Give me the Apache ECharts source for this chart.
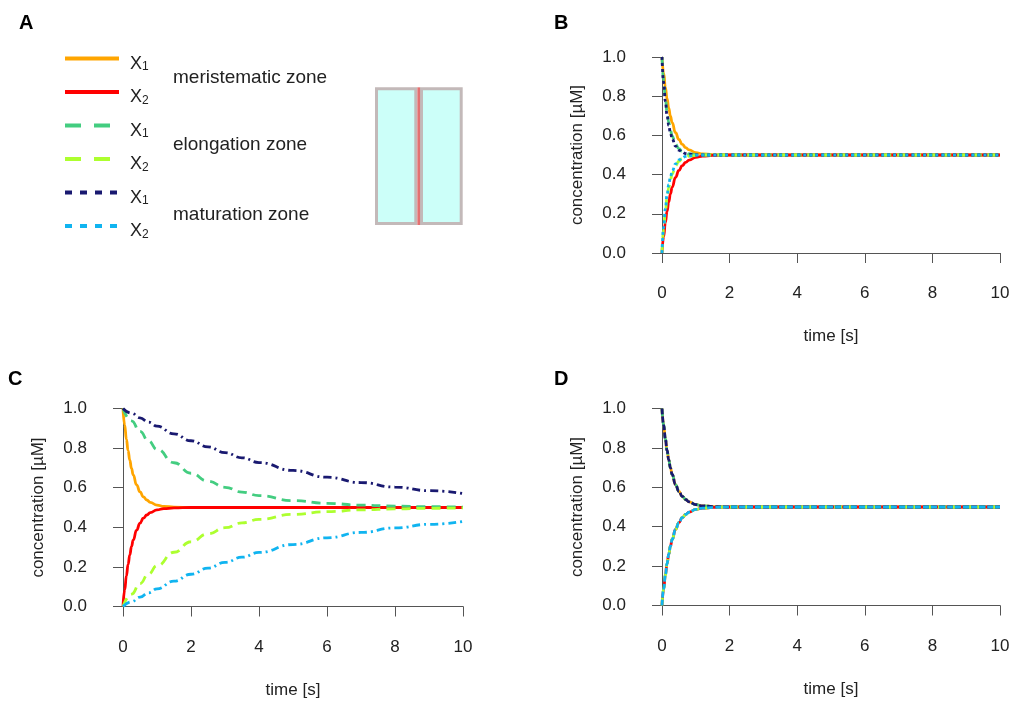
<!DOCTYPE html>
<html>
<head>
<meta charset="utf-8">
<script src="https://cdn.jsdelivr.net/npm/echarts@6/dist/echarts.min.js"></script>
<style>
html, body { margin: 0; padding: 0; background: #fff; }
#main { width: 1016px; height: 701px; }
</style>
</head>
<body>
<div id="main"></div>
<script>
var FONT = '"Liberation Sans", Arial, sans-serif';

// time points (s)
var tFast = [0, 0.05, 0.1, 0.15, 0.2, 0.25, 0.3, 0.4, 0.5, 0.6, 0.7, 0.8, 1.0, 1.2, 1.5, 2, 3, 4, 5, 6, 7, 8, 9, 10];
var tSlow = [0, 0.25, 0.5, 0.75, 1, 1.5, 2, 2.5, 3, 3.5, 4, 5, 6, 7, 8, 9, 10];

// meristematic zone (used in B, C and D)
var meriX1 = [1.000, 0.916, 0.845, 0.787, 0.739, 0.698, 0.665, 0.614, 0.579, 0.554, 0.538, 0.526, 0.512, 0.506, 0.502, 0.500, 0.5, 0.5, 0.5, 0.5, 0.5, 0.5, 0.5, 0.5];
var meriX2 = [0.000, 0.084, 0.155, 0.213, 0.261, 0.302, 0.335, 0.386, 0.421, 0.446, 0.462, 0.474, 0.488, 0.494, 0.498, 0.500, 0.5, 0.5, 0.5, 0.5, 0.5, 0.5, 0.5, 0.5];

// panel B
var bElongX1 = [1.000, 0.880, 0.789, 0.719, 0.666, 0.626, 0.596, 0.555, 0.532, 0.518, 0.511, 0.506, 0.502, 0.500, 0.5, 0.5, 0.5, 0.5, 0.5, 0.5, 0.5, 0.5, 0.5, 0.5];
var bElongX2 = [0.000, 0.120, 0.211, 0.281, 0.334, 0.374, 0.404, 0.445, 0.468, 0.482, 0.489, 0.494, 0.498, 0.500, 0.5, 0.5, 0.5, 0.5, 0.5, 0.5, 0.5, 0.5, 0.5, 0.5];
var bMatX1 = [1.000, 0.870, 0.774, 0.703, 0.651, 0.612, 0.583, 0.545, 0.525, 0.514, 0.507, 0.504, 0.501, 0.500, 0.5, 0.5, 0.5, 0.5, 0.5, 0.5, 0.5, 0.5, 0.5, 0.5];
var bMatX2 = [0.000, 0.130, 0.226, 0.297, 0.349, 0.388, 0.417, 0.455, 0.475, 0.486, 0.493, 0.496, 0.499, 0.500, 0.5, 0.5, 0.5, 0.5, 0.5, 0.5, 0.5, 0.5, 0.5, 0.5];

// panel C
var cElongX1 = [1.000, 0.938, 0.884, 0.836, 0.794, 0.726, 0.673, 0.633, 0.602, 0.578, 0.560, 0.535, 0.521, 0.512, 0.507, 0.504, 0.502];
var cElongX2 = [0.000, 0.062, 0.116, 0.164, 0.206, 0.274, 0.327, 0.367, 0.398, 0.422, 0.440, 0.465, 0.479, 0.488, 0.493, 0.496, 0.498];
var cMatX1 = [1.000, 0.976, 0.953, 0.931, 0.911, 0.872, 0.837, 0.806, 0.777, 0.751, 0.727, 0.687, 0.653, 0.626, 0.603, 0.585, 0.570];
var cMatX2 = [0.000, 0.024, 0.047, 0.069, 0.089, 0.128, 0.163, 0.194, 0.223, 0.249, 0.273, 0.313, 0.347, 0.374, 0.397, 0.415, 0.430];

var names = ['X1 meristematic', 'X2 meristematic', 'X1 elongation', 'X2 elongation', 'X1 maturation', 'X2 maturation'];
var colors = ['#FFA500', '#FF0000', '#43CD80', '#ADFF2F', '#191970', '#10B4F0'];
var zones = ['meristematic zone', 'elongation zone', 'maturation zone'];

function pairs(t, v) {
  return t.map(function (x, i) { return [x, v[i]]; });
}

function line(k, grid, t, v, dash) {
  return {
    type: 'line',
    name: names[k],
    xAxisIndex: grid,
    yAxisIndex: grid,
    data: pairs(t, v),
    symbol: 'none',
    smooth: 0.5,
    smoothMonotone: 'x',
    clip: false,
    silent: true,
    animation: false,
    itemStyle: { color: colors[k] },
    lineStyle: { color: colors[k], width: 2.8, type: dash }
  };
}

var grids = [
  { left: 662, top: 57, width: 338, height: 196 },
  { left: 123, top: 408.5, width: 340, height: 198 },
  { left: 662, top: 408.5, width: 338, height: 197 }
];

var axisColor = '#555';

function xAxis(i) {
  return {
    type: 'value', gridIndex: i, min: 0, max: 10, interval: 2, offset: 9,
    name: 'time [s]', nameLocation: 'middle', nameGap: 66,
    nameTextStyle: { fontSize: 17, color: '#222', fontFamily: FONT },
    axisLine: { show: true, lineStyle: { color: axisColor, width: 1 } },
    axisTick: { show: true, length: 10, lineStyle: { color: axisColor } },
    axisLabel: { fontSize: 17, color: '#222', fontFamily: FONT, margin: 23 },
    splitLine: { show: false }
  };
}

function yAxis(i) {
  return {
    type: 'value', gridIndex: i, min: 0, max: 1, interval: 0.2, offset: 14,
    name: 'concentration [µM]', nameLocation: 'middle', nameGap: 62,
    nameTextStyle: { fontSize: 17, color: '#222', fontFamily: FONT },
    axisLine: { show: true, lineStyle: { color: axisColor, width: 1 } },
    axisTick: { show: true, length: 10, lineStyle: { color: axisColor } },
    axisLabel: { fontSize: 17, color: '#222', fontFamily: FONT, margin: 22,
      formatter: function (v) { return v.toFixed(1); } },
    splitLine: { show: false }
  };
}

var dotB = [3, 3], dashB = [9, 6];
var series = [
  // B
  line(0, 0, tFast, meriX1, 'solid'),
  line(1, 0, tFast, meriX2, 'solid'),
  line(2, 0, tFast, bElongX1, dashB),
  line(3, 0, tFast, bElongX2, dashB),
  line(4, 0, tFast, bMatX1, dotB),
  line(5, 0, tFast, bMatX2, dotB),
  // C
  line(0, 1, tFast, meriX1, 'solid'),
  line(1, 1, tFast, meriX2, 'solid'),
  line(2, 1, tSlow, cElongX1, [9, 6]),
  line(3, 1, tSlow, cElongX2, [9, 6]),
  line(4, 1, tSlow, cMatX1, [8, 4, 2, 4]),
  line(5, 1, tSlow, cMatX2, [8, 4, 2, 4]),
  // D
  line(0, 2, tFast, meriX1, 'solid'),
  line(1, 2, tFast, meriX2, 'solid'),
  line(2, 2, tFast, meriX1, [8, 5]),
  line(3, 2, tFast, meriX2, [8, 5]),
  line(4, 2, tFast, meriX1, [6, 2]),
  line(5, 2, tFast, meriX2, [6, 2])
];

var legendDash = ['solid', 'solid', [16, 13], [16, 13], [7, 8], [7, 8]];

function letter(txt, x, y) {
  return { type: 'text', x: x, y: y,
    style: { text: txt, fontSize: 20, fontWeight: 'bold', fontFamily: FONT, fill: '#000', align: 'left', verticalAlign: 'middle' } };
}
function zoneText(txt, y) {
  return { type: 'text', x: 173, y: y,
    style: { text: txt, fontSize: 19, fontFamily: FONT, fill: '#222', align: 'left', verticalAlign: 'middle' } };
}

var chart = echarts.init(document.getElementById('main'), null, { renderer: 'canvas' });
chart.setOption({
  backgroundColor: '#fff',
  animation: false,
  grid: grids,
  xAxis: [xAxis(0), xAxis(1), xAxis(2)],
  yAxis: [yAxis(0), yAxis(1), yAxis(2)],
  legend: {
    orient: 'vertical', left: 58, top: 39.5,
    itemWidth: 54, itemHeight: 14, itemGap: 5,
    selectedMode: false,
    itemStyle: { opacity: 0 },
    data: names.map(function (n, k) {
      return { name: n, itemStyle: { opacity: 0 }, lineStyle: { width: 4, type: legendDash[k], color: colors[k] } };
    }),
    formatter: function (n) { return '{e| }\n{x|X}{s|' + n.charAt(1) + '}'; },
    textStyle: {
      color: '#222', fontFamily: FONT,
      rich: {
        e: { fontSize: 8, lineHeight: 9 },
        x: { fontSize: 18, lineHeight: 20, verticalAlign: 'bottom', padding: [0, 0, 0, 6], fontFamily: FONT, color: '#222' },
        s: { fontSize: 12, lineHeight: 8, verticalAlign: 'bottom', fontFamily: FONT, color: '#222' }
      }
    }
  },
  graphic: [
    letter('A', 19, 23),
    letter('B', 554, 23),
    letter('C', 8, 379),
    letter('D', 554, 379),
    zoneText(zones[0], 78),
    zoneText(zones[1], 145),
    zoneText(zones[2], 215),
    { type: 'rect', shape: { x: 376.5, y: 88.8, width: 39.3, height: 134.7 },
      style: { fill: '#CCFFF9', stroke: '#C3B9B9', lineWidth: 3 } },
    { type: 'rect', shape: { x: 421.5, y: 88.8, width: 39.7, height: 134.7 },
      style: { fill: '#CCFFF9', stroke: '#C3B9B9', lineWidth: 3 } },
    { type: 'line', shape: { x1: 418.7, y1: 87.3, x2: 418.7, y2: 225 },
      style: { stroke: '#E37171', lineWidth: 2.7 } }
  ],
  series: series
});
</script>
</body>
</html>
